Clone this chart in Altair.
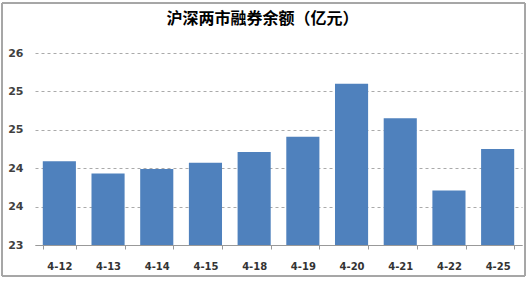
import altair as alt
import pandas as pd

dates = ["4-12", "4-13", "4-14", "4-15", "4-18", "4-19", "4-20", "4-21", "4-22", "4-25"]
values = [24.09, 23.93, 23.99, 24.07, 24.21, 24.41, 25.10, 24.65, 23.71, 24.25]
y_ticks = [23, 23.5, 24, 24.5, 25, 25.5]
title_text = "沪深两市融券余额（亿元）"

df = pd.DataFrame({"date": dates, "value": values})

font = "Noto Sans CJK SC"

bars = alt.Chart(df).mark_bar(color="#4F81BD", clip=True).encode(
    x=alt.X("date:N", sort=dates, title=None,
            scale=alt.Scale(paddingInner=0.32, paddingOuter=0.16),
            axis=alt.Axis(labelAngle=0, labelFontWeight="bold", labelFontSize=10,
                          labelColor="#333333", labelPadding=12, tickBand="extent",
                          tickSize=4, tickColor="#999999", domainColor="#999999",
                          labelFont="DejaVu Sans")),
    y=alt.Y("value:Q", title=None,
            scale=alt.Scale(domain=[23, 25.5], zero=False, nice=False),
            axis=alt.Axis(values=y_ticks, labelExpr="round(datum.value)",
                          labelFontWeight="bold", labelFontSize=11, labelColor="#404040",
                          labelPadding=12, domain=False, ticks=False,
                          grid=True, gridDash=[3, 3], gridColor="#aaaaaa",
                          labelFont="DejaVu Sans")),
    y2=alt.datum(23),
)

frame = alt.Chart(df).mark_rect(fill=None, stroke="#a6a6a6", strokeWidth=1).encode(
    x=alt.value(-33), x2=alt.value(490), y=alt.value(-50), y2=alt.value(223)
)

chart = alt.layer(bars, frame).properties(
    width=487, height=192,
    background="white",
    title=alt.TitleParams(title_text, font=font, fontSize=16, fontWeight="bold",
                          color="#000000", anchor="middle", dx=-16, offset=-24),
    padding={"left": 35, "top": 53, "right": 7, "bottom": 36},
    autosize=alt.AutoSizeParams(type="none"),
).configure_view(stroke=None)

chart.save("out.html", embed_options={"renderer": "svg", "actions": False})
